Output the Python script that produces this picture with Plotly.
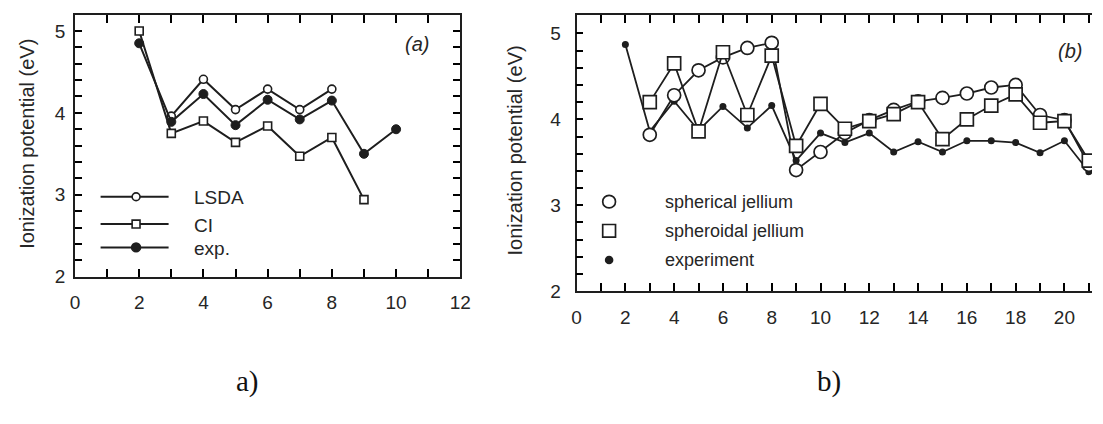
import plotly.graph_objects as go

# ---- panel (a): small clusters, LSDA vs CI vs experiment ----
n_lsda = [3, 4, 5, 6, 7, 8]
ip_lsda = [3.96, 4.41, 4.04, 4.29, 4.04, 4.29]
n_ci = [2, 3, 4, 5, 6, 7, 8, 9]
ip_ci = [5.00, 3.75, 3.90, 3.64, 3.84, 3.47, 3.70, 2.94]
n_exp_a = [2, 3, 4, 5, 6, 7, 8, 9, 10]
ip_exp_a = [4.85, 3.89, 4.23, 3.85, 4.16, 3.92, 4.15, 3.50, 3.80]

# ---- panel (b): jellium models vs experiment ----
n_sph = list(range(3, 22))
ip_sph = [3.82, 4.28, 4.57, 4.72, 4.83, 4.89, 3.41, 3.62, 3.84, 3.99,
          4.11, 4.21, 4.25, 4.30, 4.37, 4.40, 4.05, 3.99, 3.47]
n_spd = list(range(3, 22))
ip_spd = [4.20, 4.65, 3.86, 4.78, 4.05, 4.74, 3.69, 4.18, 3.89, 3.98,
          4.06, 4.20, 3.77, 4.00, 4.16, 4.29, 3.96, 3.98, 3.52]
n_exp_b = list(range(2, 22))
ip_exp_b = [4.87, 3.86, 4.21, 3.87, 4.15, 3.90, 4.16, 3.52, 3.84, 3.73,
            3.84, 3.62, 3.74, 3.62, 3.75, 3.75, 3.73, 3.61, 3.75, 3.39]

legend_a = ["LSDA", "CI", "exp."]
legend_b = ["spherical jellium", "spheroidal jellium", "experiment"]
y_title = "Ionization potential (eV)"

# tick marks every unit on x (labels on even values), every 0.2 on y
xt_a = list(range(0, 13))
xt_b = list(range(0, 22))
yt = [round(2 + 0.2 * k, 1) for k in range(17)]
xlab_a = [str(v) if v % 2 == 0 else "" for v in xt_a]
xlab_b = [str(v) if v % 2 == 0 else "" for v in xt_b]
ylab = [str(int(v)) if float(v).is_integer() else "" for v in yt]

W, H = 1103, 424
INK = "#1e1e1e"
TICK = "#000000"
TXT = "#262626"
SANS = "Liberation Sans, Arial, sans-serif"
SERIF = "Liberation Serif, Times New Roman, serif"


def px(x):
    return x / W


def py(y):
    return 1 - y / H


fig = go.Figure()

line_a = dict(color=INK, width=2)
fig.add_trace(go.Scatter(x=n_lsda, y=ip_lsda, mode="lines+markers", line=line_a,
                         marker=dict(symbol="circle", size=8, color="white",
                                     line=dict(color=INK, width=1.6)),
                         xaxis="x", yaxis="y"))
fig.add_trace(go.Scatter(x=n_exp_a, y=ip_exp_a, mode="lines+markers", line=line_a,
                         marker=dict(symbol="circle", size=9, color=INK,
                                     line=dict(color=INK, width=1)),
                         xaxis="x", yaxis="y"))
fig.add_trace(go.Scatter(x=n_ci, y=ip_ci, mode="lines+markers", line=line_a,
                         marker=dict(symbol="square", size=8, color="white",
                                     line=dict(color=INK, width=1.6)),
                         xaxis="x", yaxis="y"))

line_b = dict(color=INK, width=1.8)
fig.add_trace(go.Scatter(x=n_exp_b, y=ip_exp_b, mode="lines+markers", line=line_b,
                         marker=dict(symbol="circle", size=7, color=INK),
                         xaxis="x2", yaxis="y2"))
fig.add_trace(go.Scatter(x=n_sph, y=ip_sph, mode="lines+markers", line=line_b,
                         marker=dict(symbol="circle", size=13, color="white",
                                     line=dict(color=INK, width=1.7)),
                         xaxis="x2", yaxis="y2"))
fig.add_trace(go.Scatter(x=n_spd, y=ip_spd, mode="lines+markers", line=line_b,
                         marker=dict(symbol="square", size=13, color="white",
                                     line=dict(color=INK, width=1.7)),
                         xaxis="x2", yaxis="y2"))

tickfont = dict(family=SANS, size=19, color=TXT)
common = dict(showgrid=False, zeroline=False, showline=True, linecolor=INK,
              linewidth=1.8, ticks="inside", tickcolor=TICK, tickwidth=2.4,
              tickfont=tickfont, tickmode="array", layer="above traces")

fig.update_layout(
    width=W, height=H, margin=dict(l=0, r=0, t=0, b=0), showlegend=False,
    plot_bgcolor="white",
    xaxis=dict(domain=[px(71), px(462)], range=[0, 12], tickvals=xt_a, ticktext=xlab_a,
               ticklen=8, mirror="ticks", anchor="y", ticklabelstandoff=8, **common),
    yaxis=dict(domain=[py(284), py(15)], range=[2, 5.2], tickvals=yt, ticktext=ylab,
               ticklen=7, mirror="ticks", anchor="x", ticklabelstandoff=4, **common),
    xaxis2=dict(domain=[px(580), 1.0], range=[0, 21.13], tickvals=xt_b, ticktext=xlab_b,
                ticklen=8, mirror="ticks", anchor="y2", ticklabelstandoff=8, **common),
    yaxis2=dict(domain=[py(299), py(15.7)], range=[2, 5.21], tickvals=yt, ticktext=ylab,
                ticklen=7, anchor="x2", ticklabelstandoff=10, **common),
)

shapes = []
annotations = []


def label(text, x, y, size, family=SANS, color=TXT, xanchor="center", angle=0):
    annotations.append(dict(text=text, xref="paper", yref="paper", x=px(x), y=py(y),
                            xanchor=xanchor, yanchor="middle", textangle=angle,
                            showarrow=False, font=dict(family=family, size=size, color=color)))


def key_marker(kind, cx, cy, r, fill, width):
    shapes.append(dict(type=kind, xref="paper", yref="paper",
                       x0=px(cx - r), x1=px(cx + r), y0=py(cy + r), y1=py(cy - r),
                       fillcolor=fill, line=dict(color=INK, width=width)))


# legend keys, panel (a): line with a marker in the middle
rows_a = [202, 230, 254]
kinds_a = [("circle", 4, "white"), ("rect", 4, "white"), ("circle", 4.5, INK)]
for text, yy, (kind, r, fill) in zip(legend_a, rows_a, kinds_a):
    shapes.append(dict(type="line", xref="paper", yref="paper",
                       x0=px(97), x1=px(166), y0=py(yy), y1=py(yy),
                       line=dict(color=INK, width=2)))
    key_marker(kind, 133, yy, r, fill, 1.6)
    label(text, 190, yy + 1, 19, xanchor="left")

# legend keys, panel (b): marker only
rows_b = [207, 237, 267]
kinds_b = [("circle", 6.5, "white"), ("rect", 6.5, "white"), ("circle", 3.5, INK)]
for text, yy, (kind, r, fill) in zip(legend_b, rows_b, kinds_b):
    key_marker(kind, 613, yy, r, fill, 1.7)
    label(text, 668, yy, 18, xanchor="left")

# panel tags
label("<i>(a)</i>", 418, 45, 20)
label("<i>(b)</i>", 1081, 52, 20)

# y-axis titles
label(y_title, 22, 148, 20, angle=-90)
label(y_title, 517, 155, 20, angle=-90)

# captions under the panels
label("a)", 246, 392, 29, family=SERIF, color="#111111")
label("b)", 836, 392, 29, family=SERIF, color="#111111")

fig.update_layout(shapes=shapes, annotations=annotations)
fig.write_html("out.html")
